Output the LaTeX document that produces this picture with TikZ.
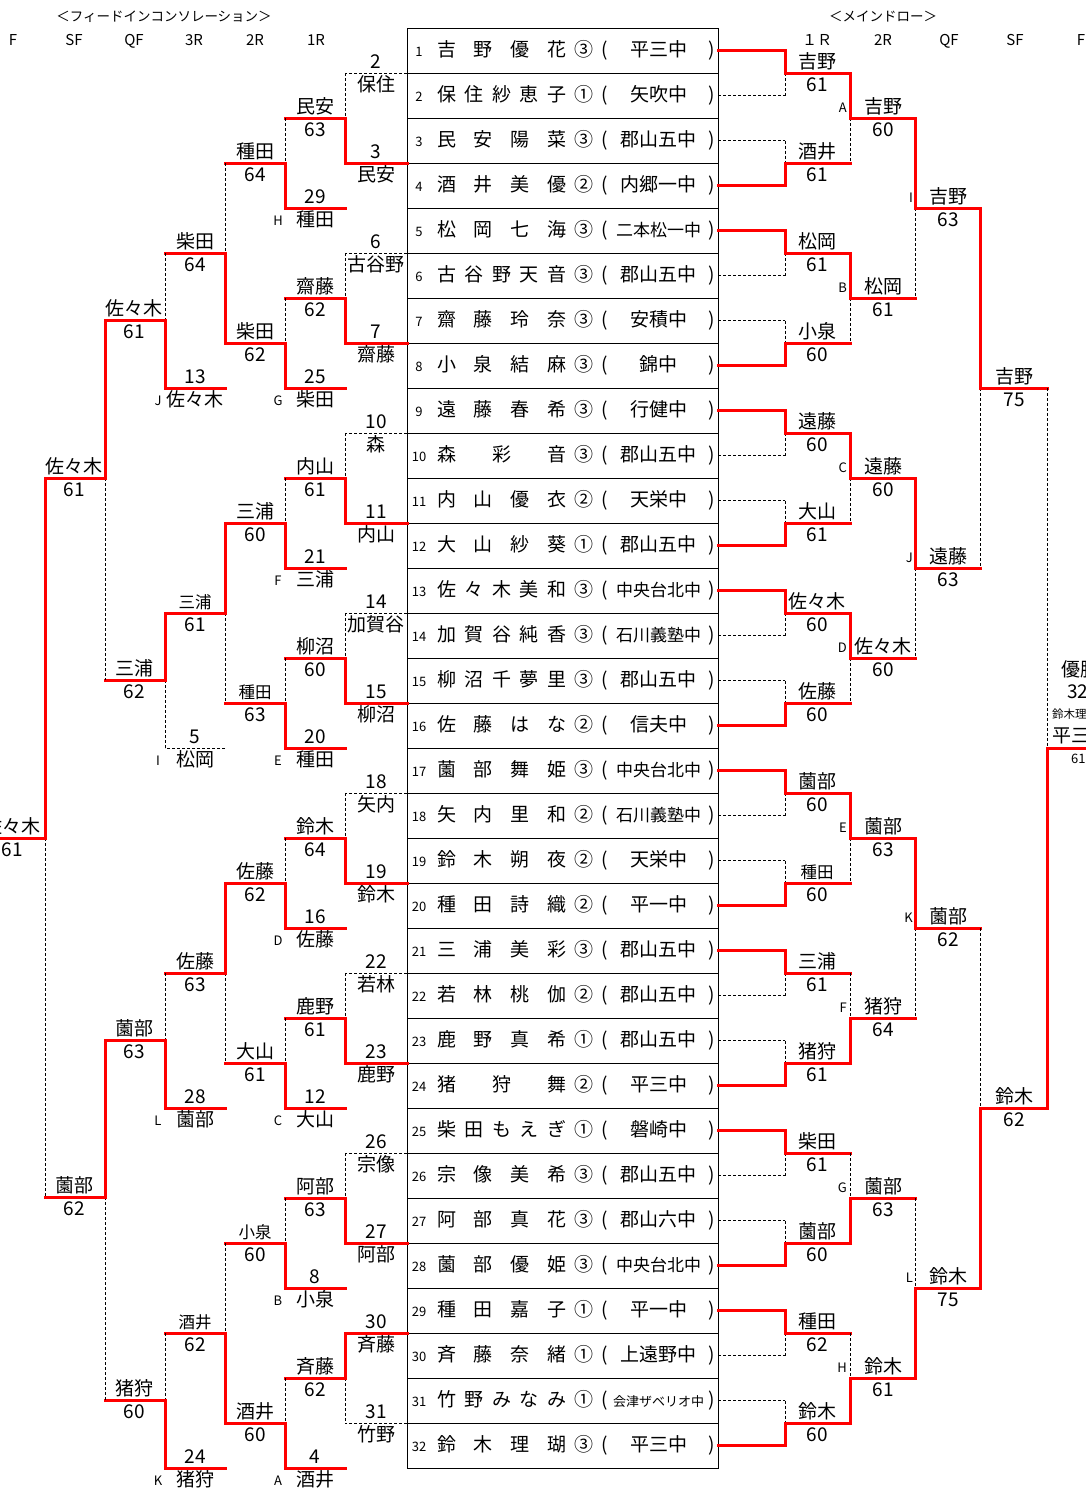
\documentclass[tikz,border=0pt]{standalone}
\usepackage{fontspec}
\setmainfont{Noto Sans CJK JP}
\definecolor{wred}{RGB}{255,0,0}
\newcount\nid
\newcommand\tx[4][]{\global\advance\nid by 1\relax\node[#1] (n\the\nid) at ({#2},{#3}) {#4};}
% name above, score below
\newcommand\rs[5][]{\tx[nm,#1]{#2}{#3-5}{#4}\tx[sc]{#2}{#3+18}{#5}}
% number above, name below
\newcommand\cz[4]{\tx[sc]{#1}{#2-5}{#3}\tx[nm]{#1}{#2+18}{#4}}
% feed-in: number above, letter + name below
\newcommand\fd[5]{\cz{#1}{#2}{#3}{#5}\tx[let]{#1-37}{#2+17}{#4}}
% joins: x of vertical, y top, y bottom, y out, x end of output
\newcommand\jt[5]{\draw[lose] (#1,{#4}) -- (#1,{#3}); \draw[win] (#1,{#2}) -- (#1,{#4}) -- ({#5},{#4});}
\newcommand\jb[5]{\draw[lose] (#1,{#2}) -- (#1,{#4}); \draw[win] (#1,{#3}) -- (#1,{#4}) -- ({#5},{#4});}
\newcommand\ew[3]{\draw[win] ({#1},{#3}) -- ({#2},{#3});}
\newcommand\el[3]{\draw[lose] ({#1},{#3}) -- ({#2},{#3});}
% table row
\newcommand\trow[4]{%
 \pgfmathsetmacro\yy{56+45*(#1-1)}%
 \tx[tn]{419}{\yy}{#1}
 \tx[tb,anchor=base west]{437}{\yy}{\makebox[129pt]{#2}}
 \tx[tb]{584}{\yy}{#3}
 \tx[tb]{605}{\yy}{(}
 \tx[tb]{712}{\yy}{)}
 \tx[tb]{658.5}{\yy}{#4}}
\begin{document}
\begin{tikzpicture}[x=1pt,y=-1pt,
  win/.style={draw=wred, line width=3pt, line cap=rect},
  lose/.style={draw=black, line width=0.8pt, dash pattern=on 3pt off 2pt},
  nm/.style={font=\fontsize{19}{19}\selectfont, inner sep=0pt, anchor=base},
  nms/.style={font=\fontsize{16.5}{16.5}\selectfont},
  sc/.style={font=\fontsize{19}{19}\selectfont, inner sep=0pt, anchor=base},
  let/.style={font=\fontsize{13}{13}\selectfont, inner sep=0pt, anchor=base},
  hd/.style={font=\fontsize{13.5}{13.5}\selectfont, inner sep=0pt, anchor=base},
  ch/.style={font=\fontsize{15}{15}\selectfont, inner sep=0pt, anchor=base},
  tb/.style={font=\fontsize{19}{19}\selectfont, inner sep=0pt, anchor=base},
  tn/.style={font=\fontsize{13}{13}\selectfont, inner sep=0pt, anchor=base}]
\useasboundingbox (0,0) rectangle (1086,1491);
\fill[white] (0,0) rectangle (1086,1491);
\clip (0,0) rectangle (1086,1491);

% ---------- headers ----------
\tx[hd]{164}{21}{＜フィードインコンソレーション＞}
\tx[hd]{883}{21}{＜メインドロー＞}
\tx[ch]{13}{45}{F}\tx[ch]{74}{45}{SF}\tx[ch]{134}{45}{QF}
\tx[ch]{194}{45}{3R}\tx[ch]{255}{45}{2R}\tx[ch]{316}{45}{1R}
\tx[ch]{817}{45}{１Ｒ}\tx[ch]{883}{45}{2R}\tx[ch]{949}{45}{QF}
\tx[ch]{1015}{45}{SF}\tx[ch]{1081}{45}{F}

% ---------- table ----------
\draw[line width=1pt] (407,28) rectangle (718,1468);
\foreach \k in {1,...,31} {\draw[line width=1pt] (407,{28+45*\k}) -- (718,{28+45*\k});}

\trow{1}{吉\hfill 野\hfill 優\hfill 花}{③}{平三中}
\trow{2}{保\hfill 住\hfill 紗\hfill 恵\hfill 子}{①}{矢吹中}
\trow{3}{民\hfill 安\hfill 陽\hfill 菜}{③}{郡山五中}
\trow{4}{酒\hfill 井\hfill 美\hfill 優}{②}{内郷一中}
\trow{5}{松\hfill 岡\hfill 七\hfill 海}{③}{{\fontsize{17}{17}\selectfont 二本松一中}}
\trow{6}{古\hfill 谷\hfill 野\hfill 天\hfill 音}{③}{郡山五中}
\trow{7}{齋\hfill 藤\hfill 玲\hfill 奈}{③}{安積中}
\trow{8}{小\hfill 泉\hfill 結\hfill 麻}{③}{錦中}
\trow{9}{遠\hfill 藤\hfill 春\hfill 希}{③}{行健中}
\trow{10}{森\hfill 彩\hfill 音}{③}{郡山五中}
\trow{11}{内\hfill 山\hfill 優\hfill 衣}{②}{天栄中}
\trow{12}{大\hfill 山\hfill 紗\hfill 葵}{①}{郡山五中}
\trow{13}{佐\hfill 々\hfill 木\hfill 美\hfill 和}{③}{{\fontsize{17}{17}\selectfont 中央台北中}}
\trow{14}{加\hfill 賀\hfill 谷\hfill 純\hfill 香}{③}{{\fontsize{17}{17}\selectfont 石川義塾中}}
\trow{15}{柳\hfill 沼\hfill 千\hfill 夢\hfill 里}{③}{郡山五中}
\trow{16}{佐\hfill 藤\hfill は\hfill な}{②}{信夫中}
\trow{17}{薗\hfill 部\hfill 舞\hfill 姫}{③}{{\fontsize{17}{17}\selectfont 中央台北中}}
\trow{18}{矢\hfill 内\hfill 里\hfill 和}{②}{{\fontsize{17}{17}\selectfont 石川義塾中}}
\trow{19}{鈴\hfill 木\hfill 朔\hfill 夜}{②}{天栄中}
\trow{20}{種\hfill 田\hfill 詩\hfill 織}{②}{平一中}
\trow{21}{三\hfill 浦\hfill 美\hfill 彩}{③}{郡山五中}
\trow{22}{若\hfill 林\hfill 桃\hfill 伽}{②}{郡山五中}
\trow{23}{鹿\hfill 野\hfill 真\hfill 希}{①}{郡山五中}
\trow{24}{猪\hfill 狩\hfill 舞}{②}{平三中}
\trow{25}{柴\hfill 田\hfill も\hfill え\hfill ぎ}{①}{磐崎中}
\trow{26}{宗\hfill 像\hfill 美\hfill 希}{③}{郡山五中}
\trow{27}{阿\hfill 部\hfill 真\hfill 花}{③}{郡山六中}
\trow{28}{薗\hfill 部\hfill 優\hfill 姫}{③}{{\fontsize{17}{17}\selectfont 中央台北中}}
\trow{29}{種\hfill 田\hfill 嘉\hfill 子}{①}{平一中}
\trow{30}{斉\hfill 藤\hfill 奈\hfill 緒}{①}{上遠野中}
\trow{31}{竹\hfill 野\hfill み\hfill な\hfill み}{①}{{\fontsize{13}{13}\selectfont 会津ザベリオ中}}
\trow{32}{鈴\hfill 木\hfill 理\hfill 瑚}{③}{平三中}

% ---------- main draw (right) ----------
\foreach \i in {2,3,6,7,10,11,14,15,18,19,22,23,26,27,30,31} {\el{718}{785}{50.5+45*(\i-1)}}
\foreach \i in {1,4,5,8,9,12,13,16,17,20,21,24,25,28,29,32} {\ew{718}{785}{50.5+45*(\i-1)}}
\foreach \m in {1,3,...,15} {\jt{785}{50.5+90*(\m-1)}{95.5+90*(\m-1)}{73+90*(\m-1)}{850}}
\foreach \m in {2,4,...,16} {\jb{785}{50.5+90*(\m-1)}{95.5+90*(\m-1)}{73+90*(\m-1)}{850}}
% 2R
\jt{850}{73}{163}{118}{915}
\jt{850}{253}{343}{298}{915}
\jt{850}{433}{523}{478}{915}
\jt{850}{613}{703}{658}{915}
\jt{850}{793}{883}{838}{915}
\jb{850}{973}{1063}{1018}{915}
\jb{850}{1153}{1243}{1198}{915}
\jb{850}{1333}{1423}{1378}{915}
% QF
\jt{915}{118}{298}{208}{980}
\jt{915}{478}{658}{568}{980}
\jt{915}{838}{1018}{928}{980}
\jb{915}{1198}{1378}{1288}{980}
% SF
\jt{980}{208}{568}{388}{1047}
\jb{980}{928}{1288}{1108}{1047}
% F
\jb{1047}{388}{1108}{748}{1110}

% labels 1R
\rs{817}{73}{吉野}{61}
\rs{817}{163}{酒井}{61}
\rs{817}{253}{松岡}{61}
\rs{817}{343}{小泉}{60}
\rs{817}{433}{遠藤}{60}
\rs{817}{523}{大山}{61}
\rs{817}{613}{佐々木}{60}
\rs{817}{703}{佐藤}{60}
\rs{817}{793}{薗部}{60}
\rs[nms]{817}{883}{種田}{60}
\rs{817}{973}{三浦}{61}
\rs{817}{1063}{猪狩}{61}
\rs{817}{1153}{柴田}{61}
\rs{817}{1243}{薗部}{60}
\rs{817}{1333}{種田}{62}
\rs{817}{1423}{鈴木}{60}
% labels 2R
\rs{883}{118}{吉野}{60}
\rs{883}{298}{松岡}{61}
\rs{883}{478}{遠藤}{60}
\rs{883}{658}{佐々木}{60}
\rs{883}{838}{薗部}{63}
\rs{883}{1018}{猪狩}{64}
\rs{883}{1198}{薗部}{63}
\rs{883}{1378}{鈴木}{61}
\tx[let,anchor=base east]{847}{112}{A}
\tx[let,anchor=base east]{847}{292}{B}
\tx[let,anchor=base east]{847}{472}{C}
\tx[let,anchor=base east]{847}{652}{D}
\tx[let,anchor=base east]{847}{832}{E}
\tx[let,anchor=base east]{847}{1012}{F}
\tx[let,anchor=base east]{847}{1192}{G}
\tx[let,anchor=base east]{847}{1372}{H}
% labels QF
\rs{948}{208}{吉野}{63}
\rs{948}{568}{遠藤}{63}
\rs{948}{928}{薗部}{62}
\rs{948}{1288}{鈴木}{75}
\tx[let,anchor=base east]{913}{202}{I}
\tx[let,anchor=base east]{913}{562}{J}
\tx[let,anchor=base east]{913}{922}{K}
\tx[let,anchor=base east]{913}{1282}{L}
% labels SF
\rs{1014}{388}{吉野}{75}
\rs{1014}{1108}{鈴木}{62}
% champion (cut by the right edge, as in the reference)
\tx[nm,anchor=base west]{1061}{676}{優勝}
\tx[sc,anchor=base west]{1067}{698}{32}
\tx[font=\fontsize{11.5}{11.5}\selectfont,inner sep=0pt,anchor=base west]{1052}{718}{鈴木理瑚}
\tx[nm,anchor=base west]{1052}{742}{平三中}
\tx[font=\fontsize{13}{13}\selectfont,inner sep=0pt,anchor=base west]{1071}{763}{61}

% ---------- consolation (left) ----------
% entries col0
\foreach \y in {73,253,433,613,793,973,1153,1423} {\el{407}{345}{\y}}
\foreach \y in {163,343,523,703,883,1063,1243,1333} {\ew{407}{345}{\y}}
\cz{376}{73}{2}{保住}
\cz{376}{163}{3}{民安}
\cz{376}{253}{6}{古谷野}
\cz{376}{343}{7}{齋藤}
\cz{376}{433}{10}{森}
\cz{376}{523}{11}{内山}
\cz{376}{613}{14}{加賀谷}
\cz{376}{703}{15}{柳沼}
\cz{376}{793}{18}{矢内}
\cz{376}{883}{19}{鈴木}
\cz{376}{973}{22}{若林}
\cz{376}{1063}{23}{鹿野}
\cz{376}{1153}{26}{宗像}
\cz{376}{1243}{27}{阿部}
\cz{376}{1333}{30}{斉藤}
\cz{376}{1423}{31}{竹野}
% joins col0
\jb{345}{73}{163}{118}{285}
\jb{345}{253}{343}{298}{285}
\jb{345}{433}{523}{478}{285}
\jb{345}{613}{703}{658}{285}
\jb{345}{793}{883}{838}{285}
\jb{345}{973}{1063}{1018}{285}
\jb{345}{1153}{1243}{1198}{285}
\jt{345}{1333}{1423}{1378}{285}
% col1 feed-ins
\foreach \y in {208,388,568,748,928,1108,1288,1468} {\ew{345}{285}{\y}}
\fd{315}{208}{29}{H}{種田}
\fd{315}{388}{25}{G}{柴田}
\fd{315}{568}{21}{F}{三浦}
\fd{315}{748}{20}{E}{種田}
\fd{315}{928}{16}{D}{佐藤}
\fd{315}{1108}{12}{C}{大山}
\fd{315}{1288}{8}{B}{小泉}
\fd{315}{1468}{4}{A}{酒井}
% col1 results
\rs{315}{118}{民安}{63}
\rs{315}{298}{齋藤}{62}
\rs{315}{478}{内山}{61}
\rs{315}{658}{柳沼}{60}
\rs{315}{838}{鈴木}{64}
\rs{315}{1018}{鹿野}{61}
\rs{315}{1198}{阿部}{63}
\rs{315}{1378}{斉藤}{62}
% joins col1
\jb{285}{118}{208}{163}{225}
\jb{285}{298}{388}{343}{225}
\jb{285}{478}{568}{523}{225}
\jb{285}{658}{748}{703}{225}
\jb{285}{838}{928}{883}{225}
\jb{285}{1018}{1108}{1063}{225}
\jb{285}{1198}{1288}{1243}{225}
\jb{285}{1378}{1468}{1423}{225}
% col2 results
\rs{255}{163}{種田}{64}
\rs{255}{343}{柴田}{62}
\rs{255}{523}{三浦}{60}
\rs[nms]{255}{703}{種田}{63}
\rs{255}{883}{佐藤}{62}
\rs{255}{1063}{大山}{61}
\rs[nms]{255}{1243}{小泉}{60}
\rs{255}{1423}{酒井}{60}
% joins col2
\jb{225}{163}{343}{253}{165}
\jt{225}{523}{703}{613}{165}
\jt{225}{883}{1063}{973}{165}
\jb{225}{1243}{1423}{1333}{165}
% col3 feed-ins
\ew{225}{165}{388}
\el{225}{165}{748}
\ew{225}{165}{1108}
\ew{225}{165}{1468}
\fd{195}{388}{13}{J}{佐々木}
\fd{195}{748}{5}{I}{松岡}
\fd{195}{1108}{28}{L}{薗部}
\fd{195}{1468}{24}{K}{猪狩}
% col3 results
\rs{195}{253}{柴田}{64}
\rs[nms]{195}{613}{三浦}{61}
\rs{195}{973}{佐藤}{63}
\rs[nms]{195}{1333}{酒井}{62}
% joins col3
\jb{165}{253}{388}{320}{105}
\jt{165}{613}{748}{680}{105}
\jb{165}{973}{1108}{1040}{105}
\jb{165}{1333}{1468}{1400}{105}
% col4 results
\rs{134}{320}{佐々木}{61}
\rs{134}{680}{三浦}{62}
\rs{134}{1040}{薗部}{63}
\rs{134}{1400}{猪狩}{60}
% joins col4
\jt{105}{320}{680}{478}{45}
\jt{105}{1040}{1400}{1197}{45}
% col5 results
\rs{74}{478}{佐々木}{61}
\rs{74}{1197}{薗部}{62}
% final
\jt{45}{478}{1197}{838}{-10}
\rs{12}{838}{佐々木}{61}
\end{tikzpicture}
\end{document}
